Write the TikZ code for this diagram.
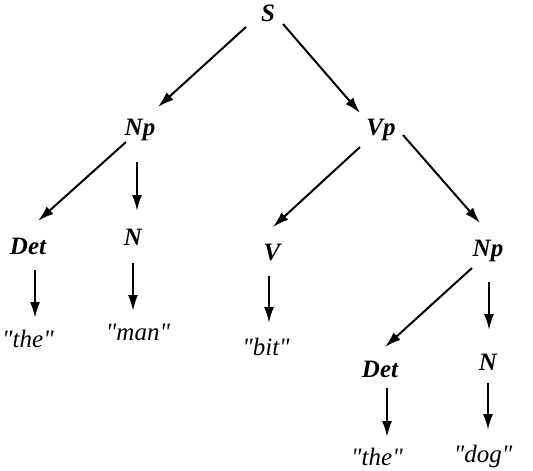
\documentclass[tikz,border=0pt]{standalone}
\usepackage{fontspec}
\setmainfont{Liberation Serif}[Ligatures=TeXOff]
\usetikzlibrary{arrows.meta}
\tikzset{
  cat/.style={inner sep=0pt, anchor=base, font=\fontsize{25}{25}\selectfont\bfseries\itshape},
  word/.style={inner sep=0pt, anchor=base, font=\fontsize{25}{25}\selectfont\itshape},
  arr/.style={line width=2pt, -{Latex[length=16pt,width=10pt]}}
}
\begin{document}
\begin{tikzpicture}[x=1pt,y=-1pt]
\useasboundingbox (0,0) rectangle (533,471);
\node[cat] (S) at (268,21) {S};
\node[cat] (Np1) at (140,135) {Np};
\node[cat] (Vp) at (381,135) {Vp};
\node[cat] (Det1) at (28,254) {Det};
\node[cat] (N1) at (133,245) {N};
\node[cat] (V) at (272,260) {V};
\node[cat] (Np2) at (488,256) {Np};
\node[word] (the1) at (28,347) {"the"};
\node[word] (man) at (138,340) {"man"};
\node[word] (bit) at (266,355) {"bit"};
\node[cat] (Det2) at (380,377) {Det};
\node[cat] (N2) at (488,370) {N};
\node[word] (the2) at (377,465) {"the"};
\node[word] (dog) at (483,462) {"dog"};

\draw[arr] ([shift={(-22,6)}]S.base) -- ([shift={(18,-28)}]Np1.base);
\draw[arr] ([shift={(15,3)}]S.base) -- ([shift={(-21,-22)}]Vp.base);
\draw[arr] ([shift={(-14,7)}]Np1.base) -- ([shift={(10,-33)}]Det1.base);
\draw[arr] ([shift={(-3,27)}]Np1.base) -- ([shift={(4,-34)}]N1.base);
\draw[arr] ([shift={(-21,12)}]Vp.base) -- ([shift={(1,-33)}]V.base);
\draw[arr] ([shift={(22,0)}]Vp.base) -- ([shift={(-8,-33)}]Np2.base);
\draw[arr] ([shift={(7,16)}]Det1.base) -- ([shift={(7,-29)}]the1.base);
\draw[arr] ([shift={(0,18)}]N1.base) -- ([shift={(-5,-29)}]man.base);
\draw[arr] ([shift={(-3,16)}]V.base) -- ([shift={(3,-32)}]bit.base);
\draw[arr] ([shift={(-16,12)}]Np2.base) -- ([shift={(5,-30)}]Det2.base);
\draw[arr] ([shift={(1,26)}]Np2.base) -- ([shift={(1,-40)}]N2.base);
\draw[arr] ([shift={(7,11)}]Det2.base) -- ([shift={(10,-28)}]the2.base);
\draw[arr] ([shift={(0,13)}]N2.base) -- ([shift={(5,-32)}]dog.base);
\end{tikzpicture}
\end{document}
